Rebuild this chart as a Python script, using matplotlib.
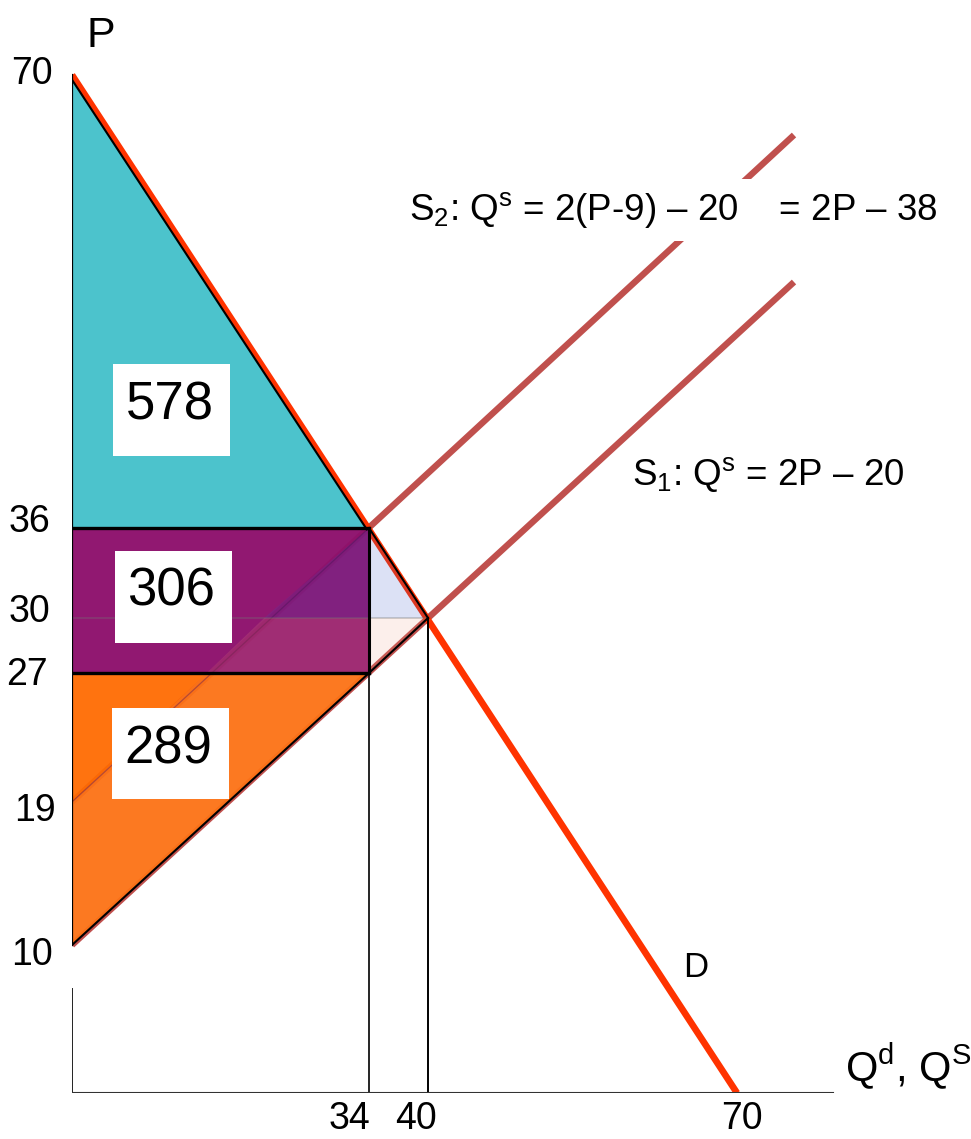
import numpy as np
import matplotlib
matplotlib.use("Agg")
import matplotlib.pyplot as plt
from matplotlib.patches import Polygon, Rectangle
from matplotlib.transforms import ScaledTranslation

plt.rcParams['font.family'] = ['Liberation Sans', 'DejaVu Sans']
plt.rcParams['mathtext.fontset'] = 'custom'
plt.rcParams['mathtext.rm'] = 'Liberation Sans'
plt.rcParams['mathtext.it'] = 'Liberation Sans:italic'
plt.rcParams['mathtext.bf'] = 'Liberation Sans:bold'

# ---------------- data ----------------
q_ticks = [34, 40, 70]
p_ticks = [10, 19, 27, 30, 36, 70]

demand_q = [0, 70]          # D: P = 70 - Q
demand_p = [70, 0]
s1_q = [0, 75.5]            # S1: Qs = 2P - 20
s1_p = [10, 47.75]
s2_q = [0, 75.5]            # S2: Qs = 2P - 38
s2_p = [19, 56.75]

q_tax, p_buyer, p_seller = 34, 36, 27     # after tax
q_eq, p_eq = 40, 30                        # before tax
q_s2_at_peq = 22                           # S2 at P = 30
area_values = ["578", "306", "289"]

# hand-drawn (non-uniform) axis spacing of the slide
x_knots_val = [0, 34, 40, 70, 75.5]
x_knots_pos = [72, 369, 428, 737, 794]
y_knots_val = [0, 10, 19, 27, 30, 36, 47.75, 56.75, 70]
y_knots_pos = [46, 194, 337, 466, 521, 611, 857, 1004, 1064]

W, H = 971, 1139


def interp_ext(xk, yk):
    xk = np.asarray(xk, float)
    yk = np.asarray(yk, float)
    s0 = (yk[1] - yk[0]) / (xk[1] - xk[0])
    s1 = (yk[-1] - yk[-2]) / (xk[-1] - xk[-2])

    def f(v):
        v = np.asarray(v, float)
        out = np.interp(v, xk, yk)
        out = np.where(v < xk[0], yk[0] + (v - xk[0]) * s0, out)
        out = np.where(v > xk[-1], yk[-1] + (v - xk[-1]) * s1, out)
        return out
    return f


fx = interp_ext(x_knots_val, x_knots_pos)
fx_inv = interp_ext(x_knots_pos, x_knots_val)
fy = interp_ext(y_knots_val, y_knots_pos)
fy_inv = interp_ext(y_knots_pos, y_knots_val)

fig = plt.figure(figsize=(W / 100, H / 100), dpi=100)
ax = fig.add_axes([72 / W, 46 / H, (W - 72) / W, (H - 46) / H])
ax.set_xscale('function', functions=(fx, fx_inv))
ax.set_yscale('function', functions=(fy, fy_inv))
ax.set_xlim(0, float(fx_inv(W)))
ax.set_ylim(0, float(fy_inv(H)))
ax.patch.set_alpha(0)
for sp in ax.spines.values():
    sp.set_visible(False)

SUPPLY = '#C0504D'
DEMAND = '#FF3300'

# supply & demand lines
ax.plot(s1_q, s1_p, color=SUPPLY, lw=4.6, solid_capstyle='butt', zorder=1)
ax.plot(s2_q, s2_p, color=SUPPLY, lw=4.6, solid_capstyle='butt', zorder=1)
ax.plot(demand_q, demand_p, color=DEMAND, lw=4.8, solid_capstyle='butt', zorder=1.5)

# welfare areas
cs = Polygon([(0, demand_p[0]), (q_tax, p_buyer), (0, p_buyer)], closed=True,
             facecolor='#46C1CB', edgecolor='none', alpha=0.97, zorder=2)
tax = Polygon([(0, p_seller), (q_tax, p_seller), (q_tax, p_buyer), (0, p_buyer)],
              closed=True, facecolor='#8E106C', edgecolor='none', alpha=0.97, zorder=2)
ps = Polygon([(0, s1_p[0]), (q_tax, p_seller), (0, p_seller)], closed=True,
             facecolor='#FF6A00', edgecolor='none', alpha=0.94, zorder=2)
shift = ScaledTranslation(-2.2 / 100, -1.4 / 100, fig.dpi_scale_trans)
cs.set_transform(ax.transData + shift)
for p in (cs, tax, ps):
    ax.add_patch(p)
# S2 shows through the tax rectangle as a thin dark trace
ax.plot([s2_q[0], q_tax], [s2_p[0], p_buyer], color='#5a0a45', lw=0.9, alpha=0.5, zorder=2.5)

# translucent overlays (lost surplus triangles)
blue = Polygon([(q_s2_at_peq, p_eq), (q_tax, p_buyer), (q_eq, p_eq)], closed=True,
               facecolor=(0.20, 0.31, 0.78), alpha=0.17, edgecolor='none', zorder=3)
peach = Polygon([(0, s2_p[0]), (q_s2_at_peq, p_eq), (q_eq, p_eq), (0, s1_p[0])],
                closed=True, facecolor=(0.95, 0.62, 0.52), alpha=0.16,
                edgecolor='none', zorder=3)
ax.add_patch(blue)
ax.add_patch(peach)
ax.plot([0, q_eq], [p_eq, p_eq], color=(0.45, 0.45, 0.45), alpha=0.35, lw=1.3, zorder=3.5)

# black outlines
k = dict(color='black', zorder=4, solid_capstyle='projecting')
hyp, = ax.plot([0, q_tax], [demand_p[0], p_buyer], lw=1.5, **k)
hyp.set_transform(ax.transData + shift)
ax.plot([q_tax, q_eq], [p_buyer, p_eq], lw=1.5, **k)
ax.plot([0, q_tax], [s1_p[0], p_seller], lw=1.5, **k)
ax.plot([q_tax, q_eq], [p_seller, p_eq], lw=1.5, **k)
ax.plot([0, q_tax], [p_buyer, p_buyer], lw=2.4, **k)
ax.plot([0, q_tax], [p_seller, p_seller], lw=2.4, **k)
ax.plot([q_tax, q_tax], [p_seller, p_buyer], lw=2.2, **k)
ax.plot([q_tax, q_tax], [0, p_seller], color='black', lw=1.2, zorder=4)
ax.plot([q_eq, q_eq], [0, p_eq], color='black', lw=1.4, zorder=4)

# axes lines (broken price axis)
ax.plot([0, 0], [s1_p[0], demand_p[0]], color='black', lw=1.6, zorder=5)
ax.plot([0, 0], [0, 7], color='#222222', lw=1.4, zorder=5)
ax.plot([0, 79.3], [0, 0], color='#333333', lw=1.5, zorder=5)

# ticks
ax.set_xticks(q_ticks, [str(v) for v in q_ticks])
ax.set_yticks(p_ticks, [str(v) for v in p_ticks])
ax.tick_params(axis='both', length=0, labelsize=27, colors='black')
ax.tick_params(axis='y', pad=13)
ax.tick_params(axis='x', pad=6)
fig.canvas.draw()
x_off = {"34": (-20, 0), "40": (-12, 0), "70": (5, 0)}
y_off = {"70": (-1, 5), "36": (-4, 10), "30": (-4, 10), "27": (-6, 2),
         "19": (2, -5), "10": (-1, -6)}
for lab in ax.get_xticklabels():
    dx, dy = x_off.get(lab.get_text(), (0, 0))
    lab.set_transform(lab.get_transform() + ScaledTranslation(dx / 100, dy / 100, fig.dpi_scale_trans))
for lab in ax.get_yticklabels():
    dx, dy = y_off.get(lab.get_text(), (0, 0))
    lab.set_transform(lab.get_transform() + ScaledTranslation(dx / 100, dy / 100, fig.dpi_scale_trans))


def P(x, y):
    return (x / W, 1 - y / H)


# area label boxes
boxes = [(113, 364, 117, 92, 170, 419), (115, 551, 117, 92, 171, 606), (112, 708, 117, 91, 168, 763)]
for (bx, by, bw, bh, tx, ty), txt in zip(boxes, area_values):
    fig.patches.append(Rectangle(P(bx, by + bh), bw / W, bh / H, transform=fig.transFigure,
                                 facecolor='white', edgecolor='none', zorder=6))
    fig.text(*P(tx, ty), txt, fontsize=38, ha='center', va='baseline', zorder=7)

# curve labels
fig.text(*P(409, 220), r"S$_2$: Q$^\mathregular{s}$ = 2(P-9) – 20    = 2P – 38", fontsize=26.5,
         ha='left', va='baseline', zorder=7,
         bbox=dict(boxstyle='square,pad=0.3', facecolor='white', edgecolor='none'))
fig.text(*P(632, 485), r"S$_1$: Q$^\mathregular{s}$ = 2P – 20", fontsize=26.5, ha='left', va='baseline', zorder=7)
fig.text(*P(683, 977), "D", fontsize=25, ha='left', va='baseline', zorder=7)
fig.text(*P(86, 47), "P", fontsize=31, ha='left', va='baseline', zorder=7)
fig.text(*P(845, 1081), r"Q$^\mathregular{d}$, Q$^\mathregular{S}$", fontsize=30, ha='left', va='baseline', zorder=7)

fig.savefig("out.png", dpi=100)
